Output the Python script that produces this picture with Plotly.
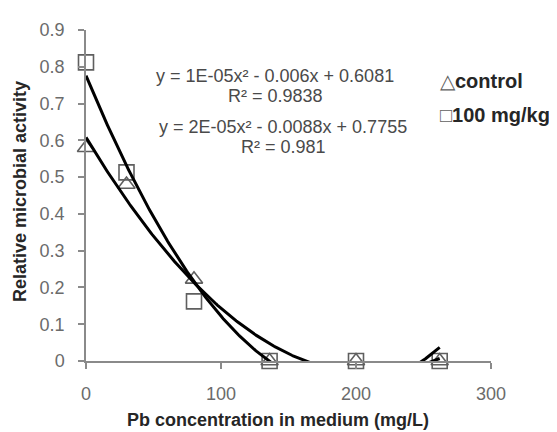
import numpy as np
import plotly.graph_objects as go

# ---- data ----
pb_conc = [0, 30, 80, 136, 200, 262]               # mg/L
control = [0.58, 0.48, 0.222, 0, 0, 0]
treated_100 = [0.812, 0.513, 0.162, 0, 0, 0]      # 100 mg/kg

eq_control = "y = 1E-05x² - 0.006x + 0.6081"
r2_control = "R² = 0.9838"
eq_treated = "y = 2E-05x² - 0.0088x + 0.7755"
r2_treated = "R² = 0.981"

x_ticks = [0, 100, 200, 300]
y_ticks = [0, 0.1, 0.2, 0.3, 0.4, 0.5, 0.6, 0.7, 0.8, 0.9]

# ---- polynomial (order 2) trendlines, as in the spreadsheet ----
xs = np.linspace(min(pb_conc), max(pb_conc), 300)
fit_c = np.polyval(np.polyfit(pb_conc, control, 2), xs)
fit_t = np.polyval(np.polyfit(pb_conc, treated_100, 2), xs)

# page body has an 8px margin; work in viewport pixels and shift
OFF = 8
W, H = 557 - OFF, 432 - OFF
L_v, R_v, T_v, B_v = 86, 491, 20, 361   # plot area in viewport pixels
ML, MT = L_v - OFF, T_v - OFF
MR = W - (R_v - OFF)
MB = H - (B_v - OFF)
PW, PH = W - ML - MR, H - MT - MB

def px(xv):
    return (xv - L_v) / PW

def py(yv):
    return (B_v - yv) / PH

marker_col = "#5f5f5f"
axis_col = "#8a8a8a"
tick_col = "#6b6b6b"
text_col = "#4a4a4a"
title_col = "#262626"

fig = go.Figure()
fig.add_trace(go.Scatter(
    x=pb_conc, y=control, mode="markers", name="control",
    marker=dict(symbol="triangle-up-open", size=15, color=marker_col,
                line=dict(width=1.6, color=marker_col)),
    cliponaxis=False, showlegend=False))
fig.add_trace(go.Scatter(
    x=pb_conc, y=treated_100, mode="markers", name="100 mg/kg",
    marker=dict(symbol="square-open", size=15, color=marker_col,
                line=dict(width=1.6, color=marker_col)),
    cliponaxis=False, showlegend=False))
fig.add_trace(go.Scatter(x=xs, y=fit_c, mode="lines", showlegend=False,
                         line=dict(color="black", width=3)))
fig.add_trace(go.Scatter(x=xs, y=fit_t, mode="lines", showlegend=False,
                         line=dict(color="black", width=3)))

font_main = "Liberation Sans, Arial, sans-serif"

annotations = []
# trendline equations
for txt, xc, yc in [(eq_control, 275, 67), (r2_control, 275, 88),
                    (eq_treated, 283, 120), (r2_treated, 283, 141)]:
    annotations.append(dict(text=txt, xref="paper", yref="paper",
                            x=px(xc), y=py(yc), xanchor="center", yanchor="middle",
                            showarrow=False,
                            font=dict(size=18, color=text_col, family=font_main)))
# legend
for sym, name, yc in [("△", "control", 73), ("□", "100 mg/kg", 108)]:
    annotations.append(dict(
        text=f'<span style="font-size:20px;color:{marker_col}">{sym}</span><b>{name}</b>',
        xref="paper", yref="paper", x=px(438), y=py(yc),
        xanchor="left", yanchor="middle", showarrow=False,
        font=dict(size=20, color=title_col, family=font_main)))
# axis titles
annotations.append(dict(text="<b>Pb concentration in medium (mg/L)</b>",
                        xref="paper", yref="paper", x=px(278), y=py(422),
                        xanchor="center", yanchor="middle", showarrow=False,
                        font=dict(size=18, color=title_col, family=font_main)))
annotations.append(dict(text="<b>Relative microbial activity</b>",
                        xref="paper", yref="paper", x=px(20), y=py(187),
                        xanchor="center", yanchor="middle", showarrow=False,
                        textangle=-90,
                        font=dict(size=18, color=title_col, family=font_main)))

fig.update_layout(
    width=W, height=H,
    margin=dict(l=ML, r=MR, t=MT, b=MB, pad=0),
    paper_bgcolor="white", plot_bgcolor="white",
    showlegend=False,
    annotations=annotations,
    xaxis=dict(range=[0, 300], tickvals=x_ticks, showgrid=False, zeroline=False,
               showline=True, linecolor=axis_col, linewidth=1.5,
               ticks="outside", ticklen=6, tickcolor=axis_col, tickwidth=1.5,
               ticklabelstandoff=10,
               tickfont=dict(size=18, color=tick_col, family=font_main)),
    yaxis=dict(range=[0, 0.9], tickvals=y_ticks, showgrid=False, zeroline=False,
               showline=True, linecolor=axis_col, linewidth=1.5,
               ticks="outside", ticklen=6, tickcolor=axis_col, tickwidth=1.5,
               ticklabelstandoff=10,
               tickfont=dict(size=18, color=tick_col, family=font_main)),
)

fig.write_html("out.html")
